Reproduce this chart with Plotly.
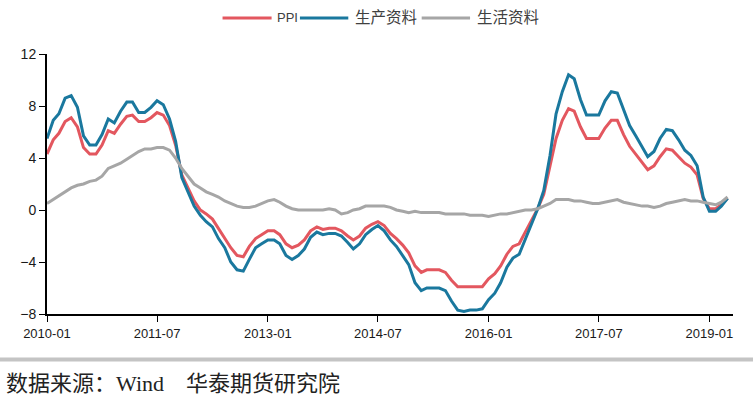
import pandas as pd
import plotly.graph_objects as go

months = pd.date_range("2010-01-01", "2019-04-01", freq="MS")

ppi = [
    4.3, 5.4, 5.9, 6.8, 7.1, 6.4, 4.8, 4.3, 4.3, 5.0, 6.1, 5.9,
    6.6, 7.2, 7.3, 6.8, 6.8, 7.1, 7.5, 7.3, 6.5, 5.0, 2.7, 1.7,
    0.7, 0.0, -0.3, -0.7, -1.4, -2.1, -2.9, -3.5, -3.6, -2.8, -2.2, -1.9,
    -1.6, -1.6, -1.9, -2.6, -2.9, -2.7, -2.3, -1.6, -1.3, -1.5, -1.4, -1.4,
    -1.6, -2.0, -2.3, -2.0, -1.4, -1.1, -0.9, -1.2, -1.8, -2.2, -2.7, -3.3,
    -4.3, -4.8, -4.6, -4.6, -4.6, -4.8, -5.4, -5.9, -5.9, -5.9, -5.9, -5.9,
    -5.3, -4.9, -4.3, -3.4, -2.8, -2.6, -1.7, -0.8, 0.1, 1.2, 3.3, 5.5,
    6.9, 7.8, 7.6, 6.4, 5.5, 5.5, 5.5, 6.3, 6.9, 6.9, 5.8, 4.9,
    4.3, 3.7, 3.1, 3.4, 4.1, 4.7, 4.6, 4.1, 3.6, 3.3, 2.7, 0.9,
    0.1, 0.1, 0.4, 0.9,
]

producer = [
    5.5, 6.9, 7.4, 8.6, 8.8, 7.9, 5.7, 5.0, 5.0, 5.8, 7.0, 6.7,
    7.6, 8.3, 8.3, 7.5, 7.5, 7.9, 8.4, 8.1, 7.0, 5.3, 2.5, 1.4,
    0.3, -0.4, -0.9, -1.3, -2.2, -2.9, -4.0, -4.6, -4.7, -3.8, -2.9, -2.6,
    -2.3, -2.3, -2.6, -3.5, -3.8, -3.5, -3.0, -2.1, -1.7, -1.9, -1.8, -1.8,
    -2.0, -2.5, -3.0, -2.6, -1.9, -1.5, -1.2, -1.6, -2.3, -2.8, -3.5, -4.2,
    -5.6, -6.2, -6.0, -6.0, -6.0, -6.2, -7.0, -7.7, -7.8, -7.7, -7.7, -7.6,
    -6.9, -6.4, -5.6, -4.4, -3.7, -3.4, -2.3, -1.1, 0.1, 1.5, 4.2, 7.4,
    9.1, 10.4, 10.1, 8.5, 7.3, 7.3, 7.3, 8.4, 9.1, 9.0, 7.7, 6.5,
    5.7, 4.9, 4.1, 4.5, 5.5, 6.2, 6.1, 5.4, 4.6, 4.2, 3.4, 1.0,
    -0.1, -0.1, 0.3, 0.9,
]

consumer = [
    0.5, 0.8, 1.1, 1.4, 1.7, 1.9, 2.0, 2.2, 2.3, 2.6, 3.2, 3.4,
    3.6, 3.9, 4.2, 4.5, 4.7, 4.7, 4.8, 4.8, 4.6, 4.0, 3.2, 2.6,
    2.0, 1.7, 1.4, 1.2, 1.0, 0.7, 0.5, 0.3, 0.2, 0.2, 0.3, 0.5,
    0.7, 0.8, 0.6, 0.3, 0.1, 0.0, 0.0, 0.0, 0.0, 0.0, 0.1, 0.0,
    -0.3, -0.2, 0.0, 0.1, 0.3, 0.3, 0.3, 0.3, 0.2, 0.0, -0.1, -0.2,
    -0.1, -0.2, -0.2, -0.2, -0.2, -0.3, -0.3, -0.3, -0.3, -0.4, -0.4, -0.4,
    -0.5, -0.4, -0.3, -0.3, -0.2, -0.1, 0.0, 0.0, 0.1, 0.3, 0.5, 0.8,
    0.8, 0.8, 0.7, 0.7, 0.6, 0.5, 0.5, 0.6, 0.7, 0.8, 0.6, 0.5,
    0.4, 0.3, 0.3, 0.2, 0.3, 0.5, 0.6, 0.7, 0.8, 0.7, 0.7, 0.6,
    0.5, 0.4, 0.6, 1.0,
]

series_names = ["PPI", "生产资料", "生活资料"]
series_colors = ["#E3575F", "#1A789E", "#A6A6A6"]

tick_dates = ["2010-01-01", "2011-07-01", "2013-01-01", "2014-07-01",
              "2016-01-01", "2017-07-01", "2019-01-01"]
tick_text = ["2010-01", "2011-07", "2013-01", "2014-07",
             "2016-01", "2017-07", "2019-01"]
y_ticks = [-8, -4, 0, 4, 8, 12]

fig = go.Figure()
for name, vals, col in zip(series_names, [ppi, producer, consumer], series_colors):
    fig.add_trace(go.Scatter(
        x=months, y=vals, mode="lines", name=name,
        line=dict(color=col, width=3), showlegend=False,
    ))

fig.update_layout(
    width=753, height=407,
    margin=dict(l=47, r=20, t=54, b=93, autoexpand=False),
    paper_bgcolor="white", plot_bgcolor="white",
    showlegend=False,
    font=dict(family="Liberation Sans, Noto Sans CJK SC", size=13, color="#1a1a1a"),
)

fig.update_xaxes(
    type="date", range=["2010-01-01", "2019-04-28"], automargin=False,
    tickvals=tick_dates, ticktext=tick_text,
    ticks="outside", ticklen=6, tickwidth=1, tickcolor="black",
    showline=True, linecolor="black", linewidth=2,
    showgrid=False, zeroline=False,
    tickfont=dict(size=13, color="#1a1a1a"),
)
fig.update_yaxes(
    range=[-8, 12], tickvals=y_ticks, automargin=False,
    ticks="outside", ticklen=6, tickwidth=1, tickcolor="black",
    showline=True, linecolor="black", linewidth=2,
    showgrid=False, zeroline=False,
    tickfont=dict(size=14, color="#1a1a1a"),
)

# legend drawn at the top (line sample + label per series)
legend_line_x = [(0.2559, 0.3274), (0.3687, 0.4392), (0.5462, 0.6167)]
legend_text_x = [0.3330, 0.4460, 0.6235]
legend_sizes = [13, 15.5, 15.5]
legend_y = 1.1386
for name, col, (lx0, lx1), tx, fs in zip(series_names, series_colors,
                                         legend_line_x, legend_text_x, legend_sizes):
    fig.add_shape(type="line", xref="paper", yref="paper",
                  x0=lx0, x1=lx1, y0=legend_y, y1=legend_y,
                  line=dict(color=col, width=3))
    fig.add_annotation(text=name, xref="paper", yref="paper",
                       x=tx, y=legend_y, xanchor="left", yanchor="middle",
                       showarrow=False,
                       font=dict(family="Liberation Sans, Noto Sans CJK SC",
                                 size=fs, color="#404040"))

# separator band and source note
fig.add_shape(type="rect", xref="paper", yref="paper",
              x0=-0.07, x1=1.04, y0=-0.183, y1=-0.167,
              fillcolor="#C4C4C4", line=dict(width=0), layer="above")
fig.add_annotation(
    text="数据来源：Wind\u3000华泰期货研究院",
    xref="paper", yref="paper", x=-0.063, y=-0.267,
    xanchor="left", yanchor="middle", showarrow=False,
    font=dict(family="Liberation Serif, Noto Sans CJK SC", size=22, color="#222222"),
)

fig.write_html("out.html", config={"displayModeBar": False},
               post_script="document.body.style.margin='0';")
